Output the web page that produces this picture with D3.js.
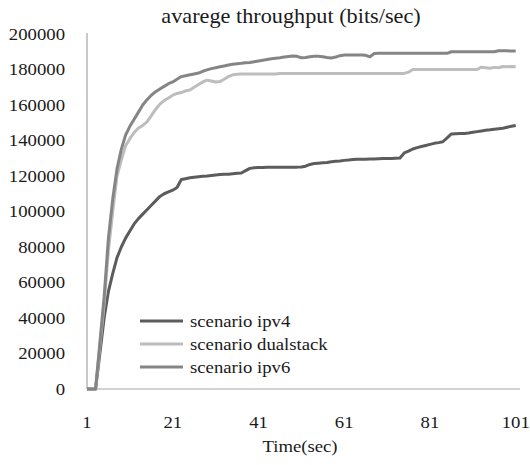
<!DOCTYPE html>
<html>
<head>
<meta charset="utf-8">
<script src="https://cdn.jsdelivr.net/npm/d3@7"></script>
<style>
  body { margin: 0; background: #fff; }
</style>
</head>
<body>
<svg width="530" height="465"></svg>
<script>
// chart data
var time = d3.range(1, 102);
var xTicks = [1, 21, 41, 61, 81, 101];
var yTicks = [0, 20000, 40000, 60000, 80000, 100000, 120000, 140000, 160000, 180000, 200000];
var seriesNames = ["scenario ipv4", "scenario dualstack", "scenario ipv6"];

var ipv4 = [0, 0, 0, 20000, 40000, 55000, 65000, 74000, 80000, 85000,
  89000, 93000, 96000, 98500, 101000, 103500, 106000, 108500, 110000, 111000,
  112000, 113500, 118000, 118500, 119000, 119300, 119600, 119800, 120000, 120300,
  120600, 120800, 121000, 121000, 121300, 121500, 121700, 123000, 124300, 124600,
  124800, 124800, 124900, 124900, 125000, 125000, 125000, 125000, 125000, 125000,
  125100, 125500, 126500, 127000, 127200, 127400, 127600, 128000, 128300, 128500,
  128800, 129000, 129300, 129500, 129500, 129500, 129600, 129600, 129700, 129800,
  129800, 129900, 130000, 130100, 133000, 134000, 135200, 136000, 136600, 137200,
  137800, 138400, 138800, 139300, 141500, 143700, 143800, 143900, 144000, 144200,
  144600, 145000, 145400, 145800, 146000, 146300, 146600, 146900, 147500, 148000,
  148500];

var dualstack = [0, 0, 0, 24000, 48000, 78000, 100000, 120000, 129000, 137000,
  141000, 144500, 147000, 148500, 150500, 154000, 157500, 160500, 162500, 164000,
  165500, 166500, 167000, 168000, 168500, 170000, 171500, 173000, 174000, 173500,
  173000, 173200, 174500, 176000, 177000, 177300, 177500, 177500, 177500, 177500,
  177500, 177500, 177500, 177500, 177500, 177800, 177800, 177800, 177800, 177800,
  177800, 177800, 177800, 177800, 177800, 177800, 177800, 177800, 177800, 177800,
  177800, 177800, 177800, 177800, 177800, 177800, 177800, 177800, 177800, 177800,
  177800, 177800, 177800, 177800, 177800, 178500, 180000, 180000, 180000, 180000,
  180000, 180000, 180000, 180000, 180000, 180000, 180000, 180000, 180000, 180000,
  180000, 180000, 181300, 181000, 180700, 181200, 181000, 181700, 181500, 181700,
  181500];

var ipv6 = [0, 0, 0, 26000, 52000, 85000, 107000, 124000, 135000, 143000,
  148000, 152000, 156000, 160000, 163000, 165500, 167500, 169000, 170500, 172000,
  173000, 174500, 176000, 176500, 177000, 177500, 178000, 179000, 179800, 180500,
  181000, 181500, 182000, 182500, 183000, 183300, 183500, 183800, 184000, 184400,
  184800, 185200, 185600, 186000, 186300, 186600, 187000, 187300, 187600, 187400,
  186600, 186800, 187200, 187400, 187400, 187200, 186800, 186500, 187000, 187800,
  188200, 188200, 188200, 188200, 188200, 188000, 187200, 189000, 189100, 189100,
  189100, 189100, 189100, 189100, 189100, 189100, 189100, 189100, 189100, 189100,
  189100, 189100, 189100, 189100, 189100, 190000, 190000, 190000, 190000, 190000,
  190000, 190000, 190000, 190000, 190000, 190000, 190600, 190500, 190500, 190400,
  190400];

var colors = ["#5c5c5c", "#bdbdbd", "#858585"];
var allSeries = [ipv4, dualstack, ipv6];

var svg = d3.select("svg");
var font = "'Liberation Serif', 'Times New Roman', serif";

var x = d3.scaleLinear().domain([1, 102]).range([87, 520]);
var y = d3.scaleLinear().domain([0, 200000]).range([389, 34]);

// helper: text placed at (px, py), widened horizontally by sx
function addText(px, py, str, size, anchor, sx) {
    return svg.append("text")
        .attr("transform", "translate(" + px + "," + py + ") scale(" + (sx || 1.17) + ",1)")
        .attr("text-anchor", anchor || "start")
        .attr("font-family", font)
        .attr("font-size", size)
        .attr("fill", "#1a1a1a")
        .text(str);
}

// title
addText(291, 23, "avarege throughput (bits/sec)", "21px", "middle", 1.06);

// axes lines
svg.append("line")
    .attr("x1", x(1)).attr("x2", x(1))
    .attr("y1", 33).attr("y2", y(0))
    .attr("stroke", "#a6a6a6").attr("stroke-width", 1.2);
svg.append("line")
    .attr("x1", x(1)).attr("x2", x(102))
    .attr("y1", y(0)).attr("y2", y(0))
    .attr("stroke", "#a6a6a6").attr("stroke-width", 1.2);

// y tick labels
yTicks.forEach(function(d) {
    addText(65, y(d) + 5.5, d, "16px", "end");
});

// x tick labels
xTicks.forEach(function(d) {
    addText(x(d), 428, d, "16px", "middle");
});

addText(300, 452, "Time(sec)", "16px", "middle");

// lines
var line = d3.line()
    .x(function(d, i) { return x(time[i]); })
    .y(function(d) { return y(d); });

svg.selectAll(".series")
    .data(allSeries)
    .enter().append("path")
    .attr("class", "series")
    .attr("d", line)
    .attr("fill", "none")
    .attr("stroke", function(d, i) { return colors[i]; })
    .attr("stroke-width", 3)
    .attr("stroke-linejoin", "round");

// legend
seriesNames.forEach(function(name, i) {
    var ly = 321 + i * 23;
    svg.append("line")
        .attr("x1", 140).attr("x2", 183)
        .attr("y1", ly).attr("y2", ly)
        .attr("stroke", colors[i])
        .attr("stroke-width", 3);
    addText(190, ly + 5.5, name, "16px", "start");
});
</script>
</body>
</html>
